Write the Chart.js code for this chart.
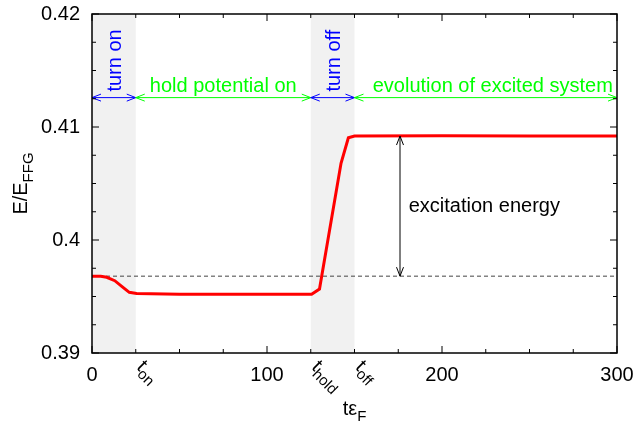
<!DOCTYPE html>
<html>
<head>
<meta charset="utf-8">
<script src="https://cdn.jsdelivr.net/npm/chart.js@4/dist/chart.umd.min.js"></script>
<style>
  html, body { margin: 0; padding: 0; background: #fff; }
  #wrap { width: 641px; height: 424px; }
</style>
</head>
<body>
<div id="wrap"><canvas id="js-energy-chart"></canvas></div>
<script>
// Time axis (t eps_F) and energy E/E_FFG
const tVals = [0, 5, 8.4, 13, 17, 21.3, 25.5, 50, 75, 100, 125.5, 130, 142.3, 146.5, 150, 200, 250, 300];
const eVals = [0.3968, 0.39679, 0.3967, 0.3964, 0.3959, 0.39537, 0.39527, 0.3952, 0.39519, 0.3952, 0.39519, 0.39566, 0.40679, 0.40905, 0.4092, 0.40922, 0.40921, 0.4092];

// Ground state reference (dashed line)
const groundE = 0.3968;

// Phase boundaries
const tOn = 25;
const tHold = 125;
const tOff = 150;
const tEnd = 300;

// Tick labels
const xTickValues = [0, 100, 200, 300];
const xTickLabels = ['0', '100', '200', '300'];
const specialTicks = [[tOn, 'on'], [tHold, 'hold'], [tOff, 'off']];
const yTickValues = [0.39, 0.40, 0.41, 0.42];
const yTickLabels = ['0.39', '0.4', '0.41', '0.42'];

const FONT = '"Liberation Sans", Arial, sans-serif';

// Draws "main" followed by subscript "sub" in the current frame
function textWithSub(ctx, main, sub, x, y, size, subSize, align) {
  ctx.font = size + 'px ' + FONT;
  const w1 = ctx.measureText(main).width;
  ctx.font = subSize + 'px ' + FONT;
  const w2 = ctx.measureText(sub).width;
  let x0 = x;
  if (align === 'center') x0 = x - (w1 + w2) / 2;
  ctx.textAlign = 'left';
  ctx.font = size + 'px ' + FONT;
  ctx.fillText(main, x0, y);
  ctx.font = subSize + 'px ' + FONT;
  ctx.fillText(sub, x0 + w1, y + size * 0.3);
}

function head(ctx, tipX, tipY, dx, dy) {
  // open V head, dx/dy is unit direction pointing to the tip
  const len = 9, half = 3.5;
  const bx = tipX - dx * len, by = tipY - dy * len;
  ctx.beginPath();
  ctx.moveTo(bx - dy * half, by + dx * half);
  ctx.lineTo(tipX, tipY);
  ctx.lineTo(bx + dy * half, by - dx * half);
  ctx.stroke();
}

function doubleArrow(ctx, x1, y1, x2, y2, color) {
  ctx.strokeStyle = color;
  ctx.lineWidth = 1;
  ctx.beginPath();
  ctx.moveTo(x1, y1);
  ctx.lineTo(x2, y2);
  ctx.stroke();
  const L = Math.hypot(x2 - x1, y2 - y1);
  const dx = (x2 - x1) / L, dy = (y2 - y1) / L;
  head(ctx, x2, y2, dx, dy);
  head(ctx, x1, y1, -dx, -dy);
}

const decorPlugin = {
  id: 'decor',
  beforeDatasetsDraw(chart) {
    const { ctx, chartArea: a, scales: { x } } = chart;
    ctx.save();
    ctx.fillStyle = '#f1f1f1';
    [[0, tOn], [tHold, tOff]].forEach(([s, e]) => {
      const p1 = x.getPixelForValue(s), p2 = x.getPixelForValue(e);
      ctx.fillRect(p1, a.top, p2 - p1, a.bottom - a.top);
    });
    ctx.restore();
  },
  afterDatasetsDraw(chart) {
    const { ctx, chartArea: a, scales: { x, y } } = chart;
    ctx.save();
    const arrowY = y.getPixelForValue(0.4126);

    // phase arrows
    const phases = [[0, tOn, '#0000ff'], [tOn, tHold, '#00ff00'], [tHold, tOff, '#0000ff'], [tOff, tEnd, '#00ff00']];
    phases.forEach(([s, e, c]) => {
      doubleArrow(ctx, x.getPixelForValue(s), arrowY, x.getPixelForValue(e), arrowY, c);
    });

    ctx.font = '20px ' + FONT;
    ctx.textBaseline = 'alphabetic';

    // vertical blue labels
    ctx.fillStyle = '#0000ff';
    [[0, tOn, 'turn on'], [tHold, tOff, 'turn off']].forEach(([s, e, txt]) => {
      const cx = (x.getPixelForValue(s) + x.getPixelForValue(e)) / 2;
      ctx.save();
      ctx.translate(cx + 7, arrowY - 6);
      ctx.rotate(-Math.PI / 2);
      ctx.textAlign = 'left';
      ctx.fillText(txt, 0, 0);
      ctx.restore();
    });

    // green labels
    ctx.fillStyle = '#00ff00';
    ctx.textAlign = 'center';
    ctx.fillText('hold potential on', x.getPixelForValue(75), arrowY - 6);
    ctx.fillText('evolution of excited system', x.getPixelForValue(229), arrowY - 6);

    // excitation energy arrow
    const ex = x.getPixelForValue(176);
    doubleArrow(ctx, ex, y.getPixelForValue(0.4092), ex, y.getPixelForValue(groundE), '#000000');
    ctx.fillStyle = '#000000';
    ctx.textAlign = 'left';
    ctx.fillText('excitation energy', x.getPixelForValue(181), y.getPixelForValue(0.4025));

    // frame
    ctx.strokeStyle = '#000000';
    ctx.lineWidth = 1.5;
    ctx.strokeRect(a.left, a.top, a.right - a.left, a.bottom - a.top);

    // inward ticks
    ctx.lineWidth = 1;
    for (let v = 0; v <= tEnd; v += 25) {
      const px = x.getPixelForValue(v);
      const len = v % 100 === 0 ? 7 : 4;
      ctx.beginPath();
      ctx.moveTo(px, a.bottom); ctx.lineTo(px, a.bottom - len);
      ctx.moveTo(px, a.top); ctx.lineTo(px, a.top + len);
      ctx.stroke();
    }
    for (let i = 0; i <= 12; i++) {
      const py = y.getPixelForValue(0.39 + i * 0.0025);
      const len = i % 4 === 0 ? 7 : 4;
      ctx.beginPath();
      ctx.moveTo(a.left, py); ctx.lineTo(a.left + len, py);
      ctx.moveTo(a.right, py); ctx.lineTo(a.right - len, py);
      ctx.stroke();
    }

    // tick labels
    ctx.fillStyle = '#000000';
    ctx.font = '20px ' + FONT;
    ctx.textAlign = 'center';
    ctx.textBaseline = 'top';
    xTickValues.forEach((v, i) => ctx.fillText(xTickLabels[i], x.getPixelForValue(v), a.bottom + 12));
    ctx.textAlign = 'right';
    ctx.textBaseline = 'middle';
    yTickValues.forEach((v, i) => ctx.fillText(yTickLabels[i], a.left - 12, y.getPixelForValue(v)));

    // rotated special x tick labels: t_on, t_hold, t_off
    specialTicks.forEach(([v, sub]) => {
      ctx.save();
      ctx.translate(x.getPixelForValue(v) + 4, a.bottom + 11);
      ctx.rotate(Math.PI / 4);
      ctx.textBaseline = 'middle';
      textWithSub(ctx, 't', sub, 0, 0, 20, 15, 'left');
      ctx.restore();
    });

    // axis titles
    ctx.textBaseline = 'alphabetic';
    textWithSub(ctx, 't\u03b5', 'F', (a.left + a.right) / 2, 415, 20, 15, 'center');
    ctx.save();
    ctx.translate(27, (a.top + a.bottom) / 2);
    ctx.rotate(-Math.PI / 2);
    textWithSub(ctx, 'E/E', 'FFG', 0, 0, 20, 15, 'center');
    ctx.restore();

    ctx.restore();
  }
};

const energyContext = document.getElementById('js-energy-chart').getContext('2d');

const energyChart = new Chart(energyContext, {
  type: 'line',
  data: {
    datasets: [
      {
        label: 'E/E_FFG',
        data: tVals.map((t, i) => ({ x: t, y: eVals[i] })),
        borderColor: '#ff0000',
        borderWidth: 3,
        pointRadius: 0,
        tension: 0,
        fill: false,
      },
      {
        label: 'ground',
        data: [{ x: 0, y: groundE }, { x: tEnd, y: groundE }],
        borderColor: '#444444',
        borderWidth: 1,
        borderDash: [4, 3],
        pointRadius: 0,
        fill: false,
      },
    ],
  },
  options: {
    responsive: true,
    maintainAspectRatio: false,
    animation: false,
    layout: { padding: { top: 14, right: 24, left: 0, bottom: 0 } },
    plugins: { legend: { display: false }, tooltip: { enabled: false } },
    scales: {
      x: {
        type: 'linear',
        min: 0,
        max: tEnd,
        grid: { display: false, drawTicks: false },
        border: { display: false },
        ticks: { display: false, stepSize: 25 },
        afterFit: (s) => { s.height = 71; },
      },
      y: {
        min: 0.39,
        max: 0.42,
        grid: { display: false, drawTicks: false },
        border: { display: false },
        ticks: { display: false, stepSize: 0.0025 },
        afterFit: (s) => { s.width = 92; },
      },
    },
  },
  plugins: [decorPlugin],
});
</script>
</body>
</html>
